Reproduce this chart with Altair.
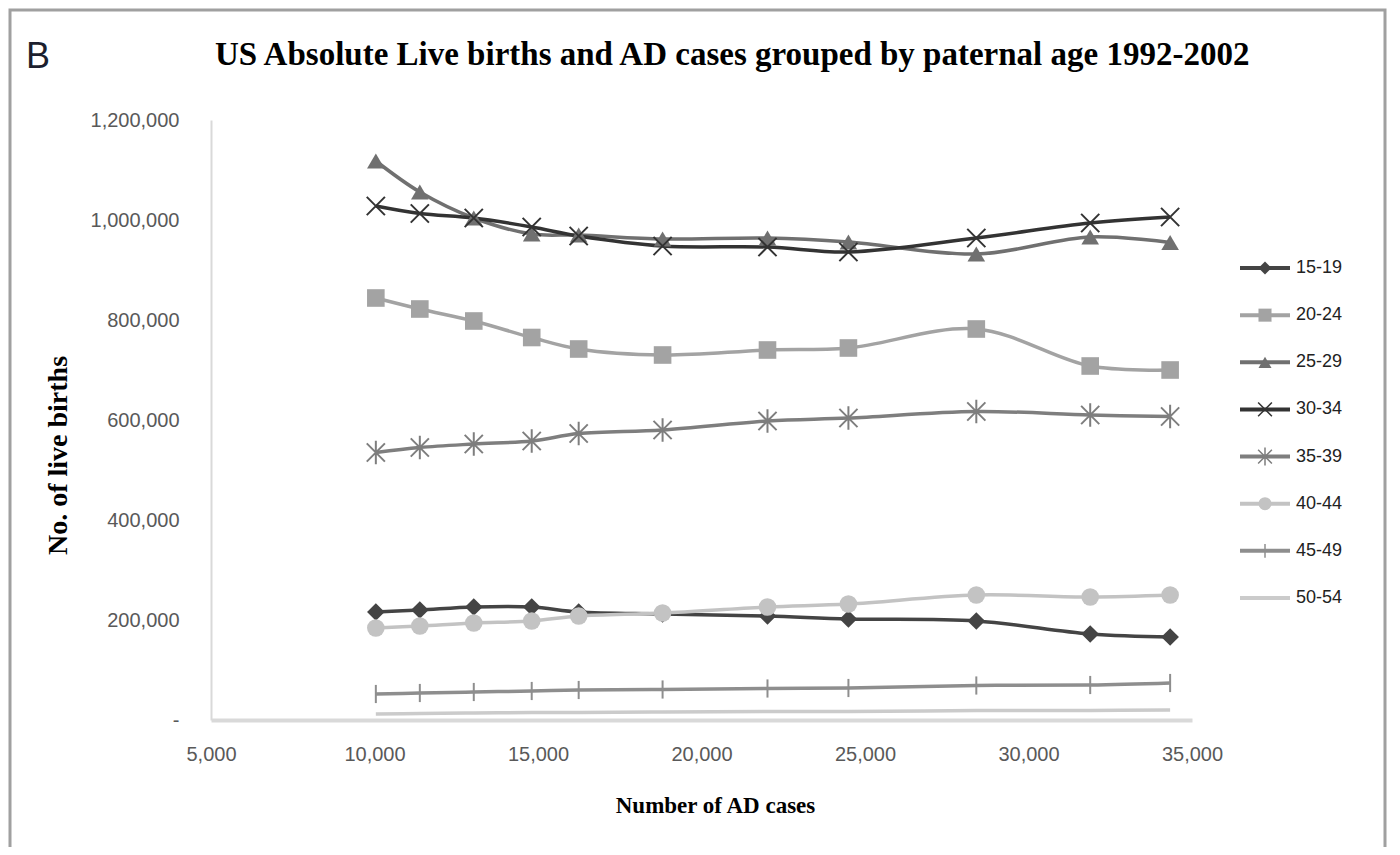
import altair as alt
import pandas as pd

# ---------------- data ----------------
x_cases = [10041, 11386, 13036, 14808, 16244, 18810, 22018, 24493, 28404, 31887, 34331]
age_groups = ["15-19", "20-24", "25-29", "30-34", "35-39", "40-44", "45-49", "50-54"]

b_15_19 = [216000, 220000, 226000, 226000, 216000, 212000, 208000, 202000, 198000, 172000, 166000]
b_20_24 = [844000, 822000, 798000, 765000, 742000, 730000, 740000, 744000, 782000, 708000, 700000]
b_25_29 = [1118000, 1056000, 1004000, 972000, 970000, 962000, 964000, 956000, 932000, 966000, 955000]
b_30_34 = [1028000, 1013000, 1004000, 986000, 968000, 948000, 946000, 936000, 964000, 994000, 1006000]
b_35_39 = [535000, 545000, 552000, 558000, 573000, 580000, 598000, 604000, 617000, 610000, 607000]
b_40_44 = [184000, 188000, 194000, 198000, 208000, 214000, 226000, 232000, 250000, 246000, 250000]
b_45_49 = [52000, 54000, 56000, 58000, 60000, 61000, 63000, 64000, 69000, 70000, 74000]
b_50_54 = [12000, 13000, 14000, 15000, 15000, 16000, 17000, 17000, 19000, 19000, 20000]

series = [b_15_19, b_20_24, b_25_29, b_30_34, b_35_39, b_40_44, b_45_49, b_50_54]

colors = ["#444444", "#a3a3a3", "#707070", "#333333", "#7e7e7e", "#c3c3c3", "#8e8e8e", "#cbcbcb"]
shapes = [
    "diamond",
    "square",
    "triangle-up",
    "M-1,-1L1,1M-1,1L1,-1",
    "M-1,-1L1,1M-1,1L1,-1M0,-1.3L0,1.3",
    "circle",
    "M0,-1L0,1",
    "circle",
]
filled_groups = ["15-19", "20-24", "25-29", "40-44"]
stroked_groups = ["30-34", "35-39", "45-49"]

x_ticks = [5000, 10000, 15000, 20000, 25000, 30000, 35000]
y_ticks = [0, 200000, 400000, 600000, 800000, 1000000, 1200000]

rows = []
for g, vals in zip(age_groups, series):
    for i, (xv, yv) in enumerate(zip(x_cases, vals)):
        rows.append({"group": g, "cases": xv, "births": yv, "idx": i})
df = pd.DataFrame(rows)
legend_df = pd.DataFrame({"group": age_groups})

LABEL_FONT = "Liberation Sans"
SERIF = "Liberation Serif"

color_scale = alt.Scale(domain=age_groups, range=colors)
shape_scale = alt.Scale(domain=age_groups, range=shapes)

x_enc = alt.X(
    "cases:Q",
    scale=alt.Scale(domain=[5000, 35000], nice=False, zero=False),
    axis=alt.Axis(
        values=x_ticks, format=",d", ticks=False, grid=False,
        domainColor="#d9d9d9", domainWidth=4, labelFlush=False,
        labelPadding=24, labelFont=LABEL_FONT, labelFontSize=20, labelColor="#595959",
        title="Number of AD cases", titleFont=SERIF, titleFontSize=23, titleFontWeight="bold",
        titleColor="#000000", titleX=504, titleY=85, titleAlign="center", titleBaseline="middle",
    ),
)
y_enc = alt.Y(
    "births:Q",
    scale=alt.Scale(domain=[0, 1200000], nice=False),
    axis=alt.Axis(
        values=y_ticks, format=",d", ticks=False, grid=False,
        labelExpr="datum.value == 0 ? '-' : datum.label",
        domainColor="#d9d9d9", domainWidth=2, labelFlush=False,
        labelPadding=32, labelFont=LABEL_FONT, labelFontSize=20, labelColor="#595959",
        title="No. of live births", titleFont=SERIF, titleFontSize=28, titleFontWeight="bold",
        titleColor="#000000", titleX=-153, titleY=335, titleAlign="center",
        titleBaseline="middle", titleAngle=270,
    ),
)

base = alt.Chart(df)
lines = base.mark_line(interpolate="catmull-rom", strokeWidth=3.5).encode(
    x=x_enc, y=y_enc,
    color=alt.Color("group:N", scale=color_scale, legend=None),
    detail="group:N",
    order="idx:Q",
)
pts_filled = base.transform_filter(
    alt.FieldOneOfPredicate(field="group", oneOf=filled_groups)
).mark_point(filled=True, opacity=1, size=310).encode(
    x="cases:Q", y="births:Q",
    color=alt.Color("group:N", scale=color_scale, legend=None),
    shape=alt.Shape("group:N", scale=shape_scale, legend=None),
)
pts_stroked = base.transform_filter(
    alt.FieldOneOfPredicate(field="group", oneOf=stroked_groups)
).mark_point(filled=False, opacity=1, size=330, strokeWidth=2).encode(
    x="cases:Q", y="births:Q",
    color=alt.Color("group:N", scale=color_scale, legend=None),
    shape=alt.Shape("group:N", scale=shape_scale, legend=None),
)

one = pd.DataFrame({"a": [0]})
border = alt.Chart(one).mark_rect(
    fill=None, stroke="#a0a0a0", strokeWidth=3, clip=False
).encode(x=alt.value(-201), x2=alt.value(1174), y=alt.value(-110), y2=alt.value(820))
title_txt = alt.Chart(one).mark_text(
    align="left", baseline="middle", font=SERIF, fontSize=33, fontWeight="bold", color="#000000"
).encode(x=alt.value(4), y=alt.value(-65),
         text=alt.value("US Absolute Live births and AD cases grouped by paternal age 1992-2002"))
b_txt = alt.Chart(one).mark_text(
    align="center", baseline="middle", font=LABEL_FONT, fontSize=36, color="#1c1f2e"
).encode(x=alt.value(-173), y=alt.value(-63), text=alt.value("B"))

main = alt.layer(border, lines, pts_filled, pts_stroked, title_txt, b_txt)

# ---------------- manual legend ----------------
ly = alt.Y("group:N", scale=alt.Scale(type="point", domain=age_groups, range=[148, 478], padding=0), axis=None)
lbase = alt.Chart(legend_df)
leg_rule = lbase.mark_rule(strokeWidth=4).encode(
    x=alt.value(1029), x2=alt.value(1079), y=ly,
    color=alt.Color("group:N", scale=color_scale, legend=None),
)
leg_filled = lbase.transform_filter(
    alt.FieldOneOfPredicate(field="group", oneOf=filled_groups)
).mark_point(filled=True, opacity=1, size=170).encode(
    x=alt.value(1054), y=ly,
    color=alt.Color("group:N", scale=color_scale, legend=None),
    shape=alt.Shape("group:N", scale=shape_scale, legend=None),
)
leg_stroked = lbase.transform_filter(
    alt.FieldOneOfPredicate(field="group", oneOf=stroked_groups)
).mark_point(filled=False, opacity=1, size=190, strokeWidth=1.5).encode(
    x=alt.value(1054), y=ly,
    color=alt.Color("group:N", scale=color_scale, legend=None),
    shape=alt.Shape("group:N", scale=shape_scale, legend=None),
)
leg_text = lbase.mark_text(
    align="left", baseline="middle", font=LABEL_FONT, fontSize=18, color="#222222"
).encode(x=alt.value(1085), y=ly, text="group:N")
legend = alt.layer(leg_rule, leg_filled, leg_stroked, leg_text)

chart = alt.layer(main, legend).resolve_scale(y="independent").properties(
    width=981, height=600,
    padding={"left": 203, "top": 112, "right": 198, "bottom": 127},
    autosize=alt.AutoSizeParams(type="none"),
    background="#ffffff",
).configure_view(stroke=None)

chart.save("out.html", embed_options={"renderer": "svg", "actions": False})
